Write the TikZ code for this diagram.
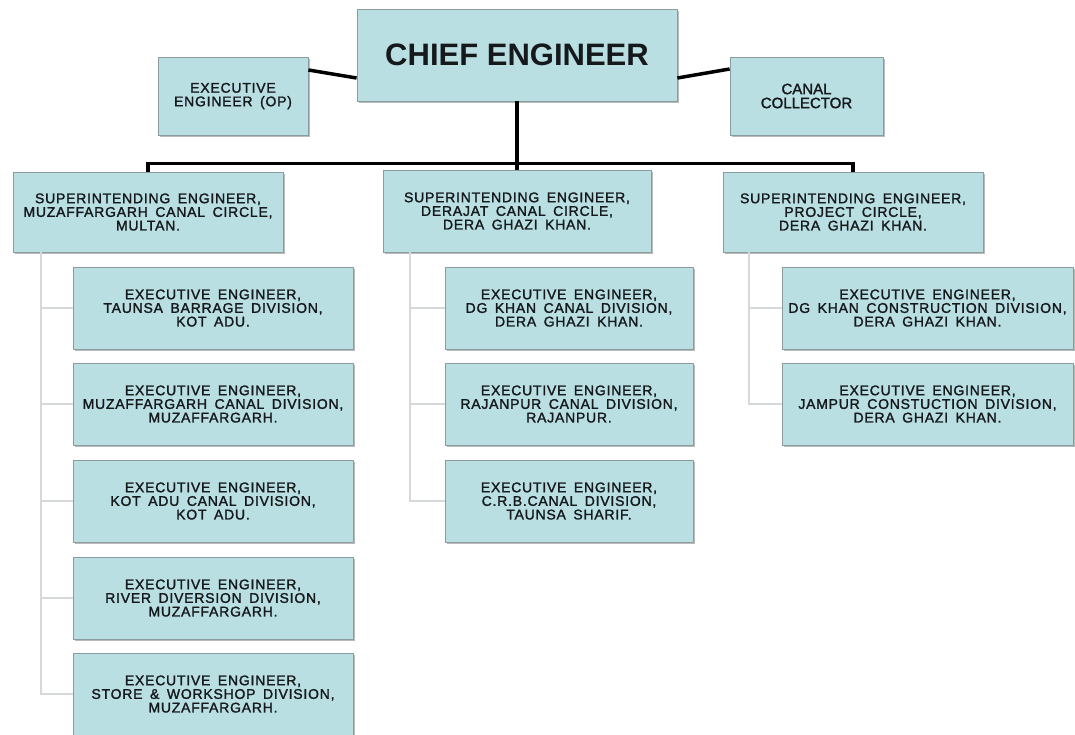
\documentclass[tikz,border=0pt]{standalone}
\usepackage{fontspec}
\setmainfont{Liberation Sans}
\newfontfamily\condfont[FakeBold=1.6, LetterSpace=5.5]{Liberation Sans}
\newfontfamily\ccfont[FakeBold=1.6]{Liberation Sans}
\newcommand\orgfont{\condfont\fontsize{14}{13.6}\selectfont\spaceskip=7.5pt plus 1pt minus 0pt\relax}
\usetikzlibrary{shadows}
\definecolor{boxfill}{HTML}{B9DFE2}
\definecolor{boxline}{HTML}{8A9C9E}
\definecolor{txt}{HTML}{15191C}
\definecolor{thinline}{HTML}{D6D9D9}
\tikzset{
  orgbox/.style={draw=boxline, line width=0.8pt, fill=boxfill, inner sep=0pt, align=center,
    text=txt, drop shadow={shadow xshift=1.5pt, shadow yshift=-1.5pt, fill=black!45, opacity=0.6}},
  smalltext/.style={font={\orgfont}},
  thick conn/.style={line width=3.5pt, black},
  thin conn/.style={line width=2pt, thinline},
  leftkid/.style={orgbox, smalltext, minimum width=280pt, minimum height=82pt},
  midkid/.style={orgbox, smalltext, minimum width=248pt, minimum height=82pt},
  rightkid/.style={orgbox, smalltext, minimum width=291pt, minimum height=82pt},
}
\begin{document}
\begin{tikzpicture}[x=1pt, y=-1pt]
\useasboundingbox (0,0) rectangle (1075,734);
\fill[white] (0,0) rectangle (1075,734);

% top level
\node[orgbox, minimum width=320pt, minimum height=92pt, font=\bfseries\fontsize{31}{34}\selectfont] (chief) at (517,55) {CHIEF ENGINEER};
\node[orgbox, smalltext, minimum width=150pt, minimum height=78pt] (op) at (233,96) {EXECUTIVE\\ENGINEER (OP)};
\node[orgbox, minimum width=153pt, minimum height=78pt, font={\ccfont\fontsize{15}{14}\selectfont}] (cc) at (806.5,96) {CANAL\\COLLECTOR};

% superintending engineers
\node[orgbox, smalltext, minimum width=270pt, minimum height=80pt] (se1) at (148,212) {SUPERINTENDING ENGINEER,\\MUZAFFARGARH CANAL CIRCLE,\\MULTAN.};
\node[orgbox, smalltext, minimum width=268pt, minimum height=82pt] (se2) at (517,211) {SUPERINTENDING ENGINEER,\\DERAJAT CANAL CIRCLE,\\DERA GHAZI KHAN.};
\node[orgbox, smalltext, minimum width=260pt, minimum height=80pt] (se3) at (853,212) {SUPERINTENDING ENGINEER,\\PROJECT CIRCLE,\\DERA GHAZI KHAN.};

% left column
\node[leftkid] (l1) at (213,308) {EXECUTIVE ENGINEER,\\TAUNSA BARRAGE DIVISION,\\KOT ADU.};
\node[leftkid] (l2) at (213,404) {EXECUTIVE ENGINEER,\\MUZAFFARGARH CANAL DIVISION,\\MUZAFFARGARH.};
\node[leftkid] (l3) at (213,501) {EXECUTIVE ENGINEER,\\KOT ADU CANAL DIVISION,\\KOT ADU.};
\node[leftkid] (l4) at (213,598) {EXECUTIVE ENGINEER,\\RIVER DIVERSION DIVISION,\\MUZAFFARGARH.};
\node[leftkid] (l5) at (213,694) {EXECUTIVE ENGINEER,\\STORE \& WORKSHOP DIVISION,\\MUZAFFARGARH.};

% middle column
\node[midkid] (m1) at (569,308) {EXECUTIVE ENGINEER,\\DG KHAN CANAL DIVISION,\\DERA GHAZI KHAN.};
\node[midkid] (m2) at (569,404) {EXECUTIVE ENGINEER,\\RAJANPUR CANAL DIVISION,\\RAJANPUR.};
\node[midkid] (m3) at (569,501) {EXECUTIVE ENGINEER,\\C.R.B.CANAL DIVISION,\\TAUNSA SHARIF.};

% right column
\node[rightkid] (r1) at (927.5,308) {EXECUTIVE ENGINEER,\\DG KHAN CONSTRUCTION DIVISION,\\DERA GHAZI KHAN.};
\node[rightkid] (r2) at (927.5,404) {EXECUTIVE ENGINEER,\\JAMPUR CONSTUCTION DIVISION,\\DERA GHAZI KHAN.};

% thick connectors
\draw[thick conn] ([yshift=26pt]op.east) -- ([yshift=-23pt]chief.west);
\draw[thick conn] ([yshift=-23pt]chief.east) -- ([yshift=27pt]cc.west);
\draw[thick conn] (chief.south) -- (se2.north);
\draw[thick conn] (se1.north) -- ++(0,-8) -| (se3.north);

% thin connectors
\coordinate (lt) at ([xshift=28pt]se1.south west);
\coordinate (mt) at ([xshift=27pt]se2.south west);
\coordinate (rt) at ([xshift=26pt]se3.south west);
\foreach \k in {l1,l2,l3,l4,l5} {\draw[thin conn] (lt) |- (\k.west);}
\foreach \k in {m1,m2,m3} {\draw[thin conn] (mt) |- (\k.west);}
\foreach \k in {r1,r2} {\draw[thin conn] (rt) |- (\k.west);}
\end{tikzpicture}
\end{document}
